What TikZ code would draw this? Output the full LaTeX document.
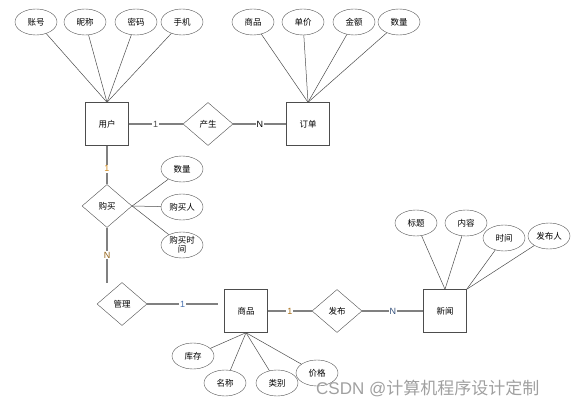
\documentclass[tikz,border=0pt]{standalone}
\usepackage{fontspec}
\usepackage{tikz}
\usetikzlibrary{shapes.geometric}
\setmainfont{Liberation Sans}
\newfontfamily\cjk{Noto Sans CJK SC}
\definecolor{edge}{HTML}{4D4D4D}
\definecolor{rel}{HTML}{808080}
\definecolor{tagorange}{HTML}{D08A1E}
\definecolor{tagblue}{HTML}{4A72B0}
\definecolor{wmgray}{HTML}{A0A0A0}

\tikzset{
  entity/.style={draw=edge,fill=white,minimum width=43pt,minimum height=43pt,inner sep=0pt,font=\cjk\fontsize{8.5}{10}\selectfont},
  relation/.style={diamond,draw=edge,fill=white,minimum width=50pt,minimum height=43pt,inner sep=0pt,font=\cjk\fontsize{8.5}{10}\selectfont},
  attr/.style={ellipse,draw=edge,fill=white,minimum width=42pt,minimum height=26pt,inner sep=0pt,font=\cjk\fontsize{8.5}{9.5}\selectfont},
  link/.style={draw=rel,line width=1.1pt},
  prop/.style={draw=edge,line width=0.5pt},
  card/.style={fill=white,inner sep=1pt,font=\fontsize{9}{10}\selectfont}
}

\begin{document}
\begin{tikzpicture}[x=1pt,y=-1pt]
      \useasboundingbox (0,0) rectangle (584,406);
      % Entities
      \node[entity] (user) at (107,124) {用户};
      \node[entity] (order) at (308,124) {订单};
      \node[entity] (goods) at (246,311) {商品};
      \node[entity] (news) at (445,311) {新闻};
      % Relationships
      \node[relation] (produce) at (208,124) {产生};
      \node[relation] (buy) at (107,206) {购买};
      \node[relation] (manage) at (122,304) {管理};
      \node[relation] (publish) at (337,311) {发布};
      % Free ends of the two open connectors
      \coordinate (buyEnd) at (107,283);
      \coordinate (manageEnd) at (218,304);
      % Attributes of user
      \node[attr] (uacc) at (36,22) {账号};
      \node[attr] (unick) at (85,22) {昵称};
      \node[attr] (upwd) at (136,22) {密码};
      \node[attr] (uphone) at (182,22) {手机};
      \foreach \a in {uacc,unick,upwd,uphone} {
         \draw[prop] (\a) -- (user.north);
      }
      % Attributes of order
      \node[attr] (ogoods) at (253,22) {商品};
      \node[attr] (oprice) at (303,22) {单价};
      \node[attr] (osum) at (354,22) {金额};
      \node[attr] (ocount) at (399,22) {数量};
      \foreach \a in {ogoods,oprice,osum,ocount} {
         \draw[prop] (\a) -- (order.north);
      }
      % Attributes of buy
      \node[attr] (bcount) at (182,169) {数量};
      \node[attr] (bbuyer) at (182,207) {购买人};
      \node[attr,align=center] (btime) at (182,245) {购买时\\间};
      \foreach \a in {bcount,bbuyer,btime} {
         \draw[prop] (\a) -- (buy.east);
      }
      % Attributes of goods
      \node[attr] (gstock) at (193,356) {库存};
      \node[attr] (gname) at (225,383) {名称};
      \node[attr] (gtype) at (277,383) {类别};
      \node[attr] (gprice) at (317,373) {价格};
      \foreach \a in {gstock,gname,gtype,gprice} {
         \draw[prop] (\a) -- (goods.south);
      }
      % Attributes of news
      \node[attr] (ntitle) at (416,223) {标题};
      \node[attr] (ntext) at (466,223) {内容};
      \node[attr] (ntime) at (504,238) {时间};
      \node[attr] (nauthor) at (549,236) {发布人};
      \draw[prop] (ntitle) -- (news.north);
      \draw[prop] (ntext) -- (news.north);
      \draw[prop] (ntime) -- (news.north east);
      \draw[prop] (nauthor) -- (news.north east);
      % Relationship links with cardinalities
      \draw[link] (user) -- node[card,text=edge]{1} (produce);
      \draw[link] (produce) -- node[card,text=black]{N} (order);
      \draw[link] (user) -- node[card,text=tagorange,pos=0.6]{1} (buy);
      \draw[link] (buy) -- node[card,text=tagorange!70!black]{N} (buyEnd);
      \draw[link] (manage) -- node[card,text=tagblue]{1} (manageEnd);
      \draw[link] (goods) -- node[card,text=tagorange!80!black]{1} (publish);
      \draw[link] (publish) -- node[card,text=tagblue!70!black]{N} (news);
      % Watermark
      \node[anchor=west,inner sep=0pt,text=wmgray,font=\fontsize{17}{17}\selectfont] (mark) at (316,388) {CSDN @{\cjk 计算机程序设计定制}};
    \end{tikzpicture}
\end{document}
